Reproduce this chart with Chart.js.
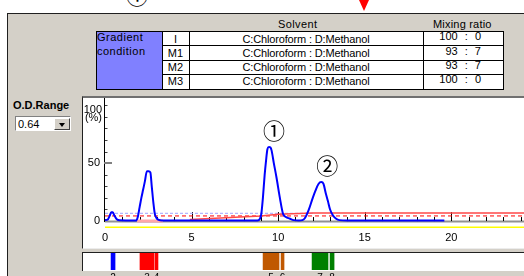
<!DOCTYPE html>
<html>
<head>
<meta charset="utf-8">
<title>chromatogram</title>
<script src="https://cdn.jsdelivr.net/npm/chart.js@4.4.0/dist/chart.umd.min.js"></script>
<style>
html, body { margin: 0; padding: 0; background: #fff; }
body { position: relative; width: 524px; height: 276px; overflow: hidden;
  font-family: "Liberation Sans", Arial, sans-serif; font-size: 11px; line-height: 11px; color: #000; }
.a { position: absolute; white-space: pre; }
#frame { left: 7px; top: 13px; width: 517px; height: 263px; background: #d4d0c8;
  border-top: 1px solid #202020; border-left: 1px solid #202020; box-sizing: border-box; }
#markTop { left: 126px; top: -17px; font: 22px/22px "Noto Sans CJK JP"; }
#arrow { left: 359px; top: 0; width: 0; height: 0; border-left: 5px solid transparent;
  border-right: 5px solid transparent; border-top: 11px solid #f00; }
.hd { top: 18.5px; letter-spacing: 0.4px; }
.vl { width: 1px; height: 58px; top: 31px; background: #000; }
.hl { left: 162px; width: 342px; height: 1px; background: #000; }
.step { left: 162px; width: 27px; text-align: center; }
.solv { left: 189px; width: 234px; text-align: center; letter-spacing: -0.15px; }
.ratio { left: 423px; width: 58px; text-align: right; word-spacing: 4px; }
#chartPanel { left: 82px; top: 96px; width: 442px; height: 153px; background: #fff; box-sizing: border-box;
  border-top: 2px solid #707070; border-left: 1px solid #202020; border-bottom: 1px solid #ececec; }
#fracBox { left: 82px; top: 252px; width: 442px; height: 19px; background: #fff; box-sizing: border-box;
  border-top: 1px solid #202020; border-left: 1px solid #202020; }
#chrom { position: absolute; left: 83px; top: 98px; }
#frac { position: absolute; left: 83px; top: 253px; }
</style>
</head>
<body>
<div id="frame" class="a"></div>
<div id="markTop" class="a">①</div>
<div id="arrow" class="a"></div>

<div class="a hd" style="left:278px">Solvent</div>
<div class="a hd" style="left:433px;letter-spacing:0.2px">Mixing ratio</div>

<div class="a" style="left:96px;top:31px;width:408px;height:59px;background:#fff;border:1px solid #000;box-sizing:border-box"></div>
<div class="a" style="left:97px;top:32px;width:65px;height:57px;background:#8080ff"></div>
<div class="a vl" style="left:162px"></div>
<div class="a vl" style="left:189px"></div>
<div class="a vl" style="left:423px"></div>
<div class="a hl" style="top:45px"></div>
<div class="a hl" style="top:60px"></div>
<div class="a hl" style="top:74px"></div>
<div class="a" style="left:97px;top:32px;letter-spacing:0.5px">Gradient</div>
<div class="a" style="left:97px;top:46.4px;letter-spacing:0.5px">condition</div>

<div class="a step" style="top:33.5px">I</div>
<div class="a step" style="top:47.5px">M1</div>
<div class="a step" style="top:62px">M2</div>
<div class="a step" style="top:76px">M3</div>
<div class="a solv" style="top:33.5px">C:Chloroform : D:Methanol</div>
<div class="a solv" style="top:47.5px">C:Chloroform : D:Methanol</div>
<div class="a solv" style="top:62px">C:Chloroform : D:Methanol</div>
<div class="a solv" style="top:76px">C:Chloroform : D:Methanol</div>
<div class="a ratio" style="top:31px">100 : 0</div>
<div class="a ratio" style="top:45.5px">93 : 7</div>
<div class="a ratio" style="top:60px">93 : 7</div>
<div class="a ratio" style="top:74px">100 : 0</div>

<div class="a" style="left:13px;top:100px;font-weight:bold">O.D.Range</div>
<div class="a" style="left:15px;top:116px;width:56px;height:15px;background:#fff;box-sizing:border-box;border-top:1px solid #808080;border-left:1px solid #808080;border-right:1px solid #fff;border-bottom:1px solid #fff">
  <div class="a" style="left:2px;top:1.5px">0.64</div>
  <div class="a" style="left:38px;top:1px;width:16px;height:12px;background:#d4d0c8;box-sizing:border-box;border-top:1px solid #fff;border-left:1px solid #fff;border-right:1px solid #404040;border-bottom:1px solid #404040">
    <div class="a" style="left:3.5px;top:4px;width:0;height:0;border-left:3.5px solid transparent;border-right:3.5px solid transparent;border-top:4px solid #000"></div>
  </div>
</div>

<div id="chartPanel" class="a"></div>
<div id="fracBox" class="a"></div>
<canvas id="chrom" width="441" height="150"></canvas>
<canvas id="frac" width="441" height="23"></canvas>

<script>
// 흡광도 곡선 (분, %)
const traceTime = [0, 0.15, 0.27, 0.36, 0.45, 0.55, 0.68, 0.85, 1.2, 1.8, 1.9, 2.0, 2.1, 2.2, 2.3, 2.42, 2.52, 2.62, 2.7, 2.8, 2.88, 2.98, 3.1, 3.3, 4.5, 6.5, 8.8, 8.95, 9.03, 9.12, 9.22, 9.3, 9.38, 9.47, 9.55, 9.62, 9.75, 9.9, 10.1, 10.28, 10.45, 10.66, 10.9, 11.2, 11.4, 11.53, 11.75, 12.0, 12.15, 12.33, 12.49, 12.62, 12.75, 12.87, 13.0, 13.16, 13.35, 13.54, 14.0, 16.0, 19.6];
const traceAbs = [0.8, 1.2, 4.5, 7.5, 7.5, 4.5, 1.5, 0.6, 0.5, 0.5, 4, 12, 20, 27, 34, 43, 43, 42, 30, 15, 6, 2.5, 1, 0.5, 0.4, 0.4, 0.4, 2, 6.4, 20, 39.7, 52, 62, 64, 63.5, 61, 50, 38, 20, 6.4, 3.5, 2.2, 0.8, 0.5, 0.8, 2.2, 9, 20, 26, 32, 33.6, 32, 24, 17.5, 10, 5, 2, 0.8, 0.4, 0.4, 0.4];

// 그라디언트 (빨간 실선)
const gradTime = [4.9, 9.0, 10.0, 12.0, 24.2];
const gradLevel = [1.4, 4.4, 5.8, 6.9, 6.9];

// 기준선들
const thresholdTime = [0, 24.2];
const thresholdLevel = [4.4, 4.4];
const noiseTime = [0, 12];
const noiseLevel = [6.7, 6.7];
const floorTime = [0, 24.2];
const floorLevel = [-5.3, -5.3];
const peakBaseTime = [1.85, 3.35];
const peakBaseLevel = [0, 0];

// y축 눈금 라벨
const yTickValues = [0, 50];

// 피크 표시
const peakMarks = ['①', '②'];
const peakMarkTime = [9.76, 12.83];
const peakMarkLevel = [78.3, 47.4];

// 분획
const fractionNo = ['2', '3', '4', '5', '6', '7', '8'];
const fractionStart = [0.35, 2.02, 2.89, 9.13, 10.17, 11.96, 13.0];
const fractionEnd = [0.58, 2.83, 3.06, 10.05, 10.34, 12.88, 13.23];
const fractionColor = ['#0000ff', '#ff0000', '#ff0000', '#c05800', '#c05800', '#008000', '#008000'];

const timeMax = 24.2;
const xLabelStep = 5;

Chart.defaults.font.family = '"Liberation Sans", Arial, sans-serif';
Chart.defaults.font.size = 11;
Chart.defaults.color = '#000';

const pts = (xs, ys) => xs.map((x, i) => ({ x, y: ys[i] }));

const axisDeco = {
    id: 'axisDeco',
    beforeDatasetsDraw(chart) {
        const { ctx, chartArea } = chart;
        const x = chart.scales.x, y = chart.scales.y;
        const y0 = y.getPixelForValue(0);
        ctx.save();
        // x축 회색 선
        ctx.strokeStyle = '#929292';
        ctx.lineWidth = 2;
        ctx.beginPath();
        ctx.moveTo(chartArea.left, y0 + 0.5);
        ctx.lineTo(chartArea.right, y0 + 0.5);
        ctx.stroke();
        // x축 눈금
        ctx.strokeStyle = '#000';
        ctx.lineWidth = 1;
        for (let t = 1; t <= Math.floor(timeMax); t++) {
            const px = Math.round(x.getPixelForValue(t)) + 0.5;
            const len = t % xLabelStep === 0 ? 9 : 4;
            ctx.beginPath();
            ctx.moveTo(px, y0);
            ctx.lineTo(px, y0 - len);
            ctx.stroke();
        }
        // y축
        ctx.beginPath();
        ctx.moveTo(chartArea.left - 0.5, 0);
        ctx.lineTo(chartArea.left - 0.5, y0 + 1);
        ctx.stroke();
        ctx.strokeStyle = '#404040';
        for (let v = 10; v <= 100; v += 10) {
            const py = Math.round(y.getPixelForValue(v)) + 0.5;
            ctx.beginPath();
            ctx.moveTo(chartArea.left, py);
            ctx.lineTo(chartArea.left + 2.5, py);
            ctx.stroke();
        }
        ctx.strokeStyle = '#808080';
        ctx.lineWidth = 2;
        const p50 = Math.round(y.getPixelForValue(50));
        ctx.beginPath();
        ctx.moveTo(chartArea.left - 1, p50);
        ctx.lineTo(chartArea.left + 7, p50);
        ctx.stroke();
        // 단위
        ctx.fillStyle = '#000';
        ctx.font = '11px "Liberation Sans", Arial, sans-serif';
        ctx.textAlign = 'right';
        ctx.textBaseline = 'alphabetic';
        ctx.fillText('100', chartArea.left - 3, y.getPixelForValue(100) + 8);
        ctx.fillText('(%)', chartArea.left - 3, y.getPixelForValue(100) + 16);
        ctx.restore();
    },
    afterDatasetsDraw(chart) {
        const { ctx } = chart;
        const x = chart.scales.x, y = chart.scales.y;
        ctx.save();
        ctx.fillStyle = '#000';
        ctx.font = '22px "Noto Sans CJK JP"';
        ctx.textAlign = 'center';
        ctx.textBaseline = 'middle';
        peakMarks.forEach((m, i) => {
            ctx.fillText(m, x.getPixelForValue(peakMarkTime[i]), y.getPixelForValue(peakMarkLevel[i]));
        });
        ctx.restore();
    }
};

new Chart(document.getElementById('chrom'), {
    type: 'line',
    data: {
        datasets: [
            { data: pts(traceTime, traceAbs), borderColor: '#0000ff', borderWidth: 2, cubicInterpolationMode: 'monotone' },
            { data: pts(peakBaseTime, peakBaseLevel), borderColor: '#ffa8a8', borderWidth: 3 },
            { data: pts(gradTime, gradLevel), borderColor: '#ff4848', borderWidth: 1.5 },
            { data: pts(thresholdTime, thresholdLevel), borderColor: '#ff0000', borderWidth: 1, borderDash: [4, 3] },
            { data: pts(noiseTime, noiseLevel), borderColor: '#a0a0ff', borderWidth: 1, borderDash: [3, 2] },
            { data: pts(floorTime, floorLevel), borderColor: '#ffff00', borderWidth: 1.5 }
        ]
    },
    options: {
        responsive: false,
        animation: false,
        layout: { padding: { top: 3, left: 0, right: 0, bottom: 0 } },
        elements: { point: { radius: 0 } },
        plugins: { legend: { display: false }, tooltip: { enabled: false } },
        scales: {
            x: {
                type: 'linear', min: 0, max: timeMax,
                grid: { display: false, drawTicks: false }, border: { display: false },
                ticks: {
                    stepSize: 1, autoSkip: false, maxRotation: 0, includeBounds: false, padding: 3,
                    callback: v => v % xLabelStep === 0 ? String(v) : ''
                },
                afterFit(s) { s.height = 20; }
            },
            y: {
                min: -6, max: 100,
                grid: { display: false, drawTicks: false }, border: { display: false },
                ticks: { padding: 5, font: { size: 11, lineHeight: 0.4 } },
                afterBuildTicks(s) { s.ticks = yTickValues.map(v => ({ value: v })); },
                afterFit(s) { s.width = 22; }
            }
        }
    },
    plugins: [axisDeco]
});

const fracLabels = {
    id: 'fracLabels',
    afterDatasetsDraw(chart) {
        const { ctx, chartArea } = chart;
        const x = chart.scales.x;
        ctx.save();
        ctx.fillStyle = '#000';
        ctx.font = '10px "Liberation Sans", Arial, sans-serif';
        ctx.textAlign = 'center';
        ctx.textBaseline = 'top';
        fractionNo.forEach((n, i) => {
            const px = x.getPixelForValue((fractionStart[i] + fractionEnd[i]) / 2);
            ctx.fillText(n, px, chartArea.bottom + 3);
        });
        ctx.restore();
    }
};

new Chart(document.getElementById('frac'), {
    type: 'bar',
    data: {
        labels: ['fraction'],
        datasets: fractionStart.map((s, i) => ({
            data: [[s, fractionEnd[i]]],
            backgroundColor: fractionColor[i],
            borderWidth: 0,
            grouped: false,
            barPercentage: 1,
            categoryPercentage: 1
        }))
    },
    options: {
        indexAxis: 'y',
        responsive: false,
        animation: false,
        layout: { padding: { left: 22, right: 0, top: 0, bottom: 6 } },
        plugins: { legend: { display: false }, tooltip: { enabled: false } },
        scales: {
            x: { type: 'linear', min: 0, max: timeMax, display: false },
            y: { display: false }
        }
    },
    plugins: [fracLabels]
});
</script>
</body>
</html>
